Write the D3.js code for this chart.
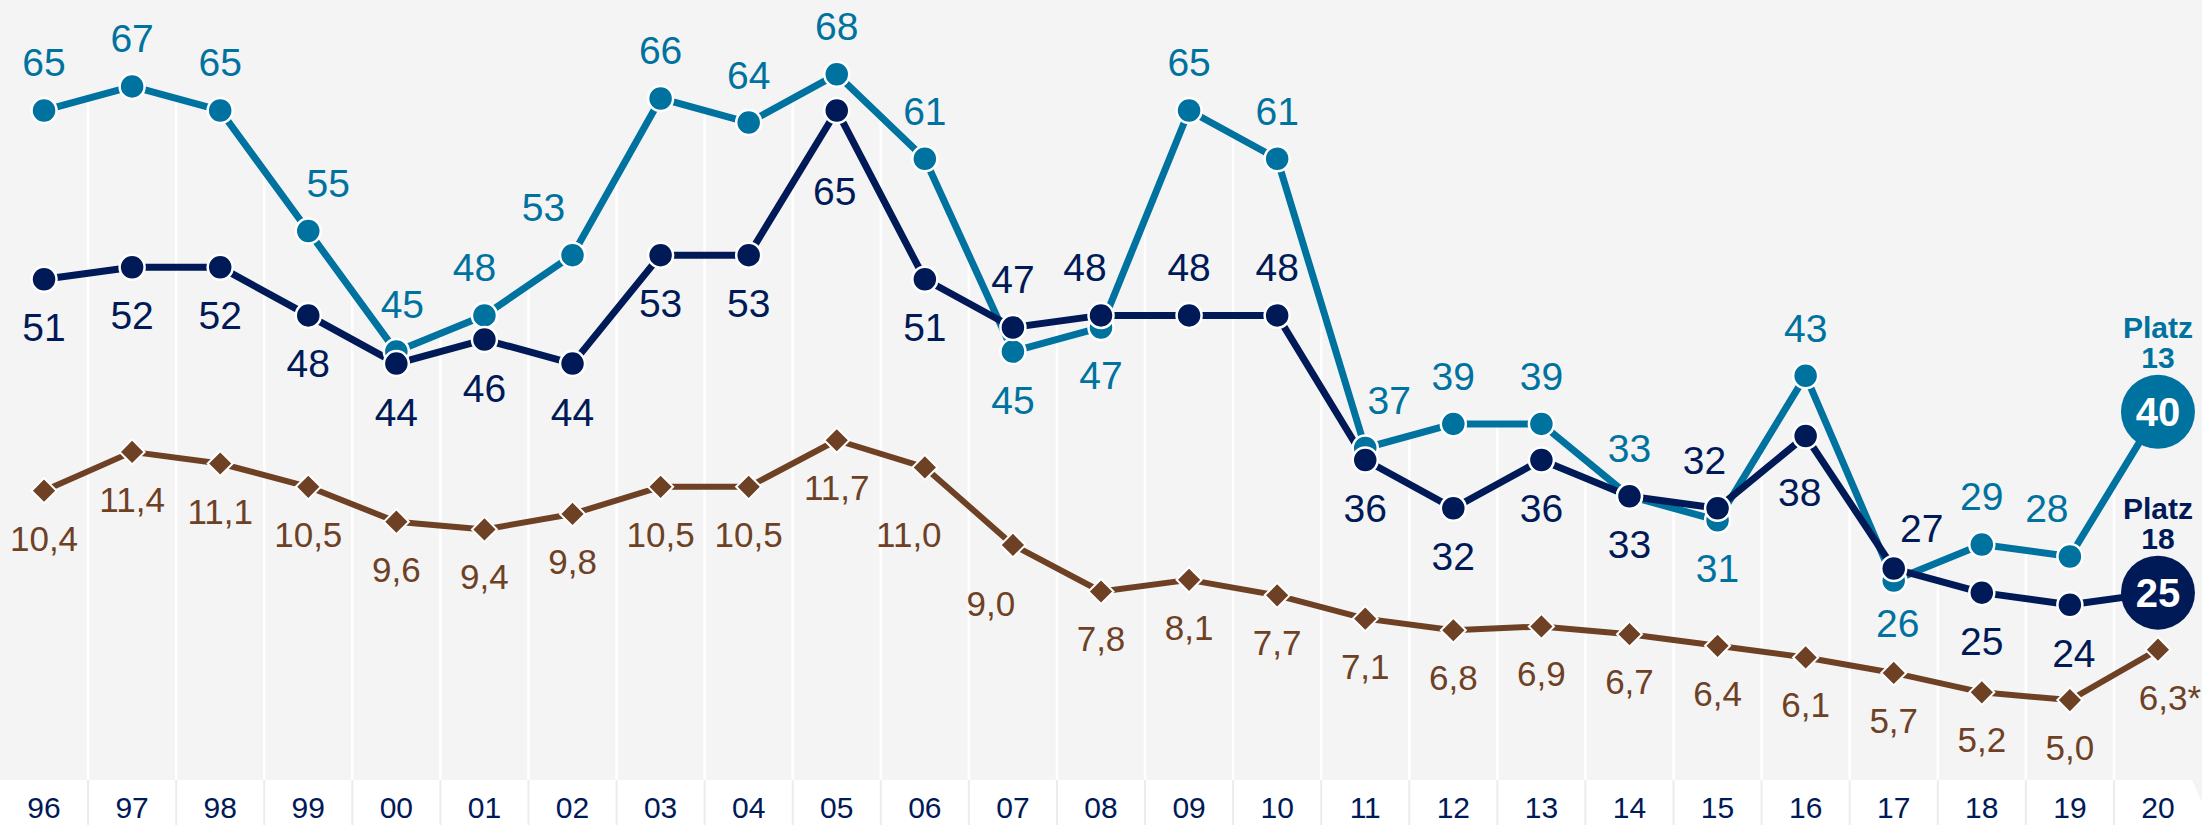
<!DOCTYPE html>
<html>
<head>
<meta charset="utf-8">
<script src="https://cdn.jsdelivr.net/npm/d3@7"></script>
<style>
  html, body { margin: 0; padding: 0; background: #f4f4f4; }
  svg { display: block; font-family: "Liberation Sans", Arial, sans-serif; }
</style>
</head>
<body>
<svg id="chart" width="2202" height="825"></svg>
<script>
// data
const years = ['96', '97', '98', '99', '00', '01', '02', '03', '04', '05', '06', '07', '08',
  '09', '10', '11', '12', '13', '14', '15', '16', '17', '18', '19', '20'];
const rankTeal = [65, 67, 65, 55, 45, 48, 53, 66, 64, 68, 61, 45, 47, 65, 61, 37, 39, 39, 33, 31, 43, 26, 29, 28, 40];
const rankNavy = [51, 52, 52, 48, 44, 46, 44, 53, 53, 65, 51, 47, 48, 48, 48, 36, 32, 36, 33, 32, 38, 27, 25, 24, 25];
const rate = [10.4, 11.4, 11.1, 10.5, 9.6, 9.4, 9.8, 10.5, 10.5, 11.7, 11.0, 9.0, 7.8, 8.1, 7.7, 7.1, 6.8, 6.9, 6.7, 6.4, 6.1, 5.7, 5.2, 5.0, 6.3];
const rateNote = '*';           // last value is provisional
const placeTeal = 13;
const placeNavy = 18;

// label placement (layout only)
const tealBelow = ['07', '08', '15', '17'];
const navyAbove = ['07', '08', '09', '10', '15', '17'];
const nudgeTeal = { '99': [20, 0], '00': [6, 0], '01': [-10, 0], '02': [-29, 0], '11': [24, 0], '17': [4, -6], '19': [-23, 0] };
const nudgeNavy = { '05': [-2, 33], '08': [-16, 0], '15': [-13, 0], '16': [-6, 8], '17': [28, 7], '19': [4, 0] };
const nudgeRate = { '06': [-16, 20], '07': [-22, 11], '20': [12, 0] };

const W = 2202, H = 825, plotBottom = 780;
const teal = '#00729f', navy = '#001a57', brown = '#6e4125';

const svg = d3.select('#chart');
const x = d3.scaleBand().domain(years).range([0, W]);
const cx = d => x(d) + x.bandwidth() / 2;
const yRank = d3.scaleLinear().domain([0, 74]).range([894, 2]);
const yRate = d3.scaleLinear().domain([0, 23]).range([894, 2]);
const fmtRate = v => d3.format('.1f')(v).replace('.', ',');

svg.append('rect').attr('width', W).attr('height', H).attr('fill', '#f4f4f4');

// white column dividers, from the top line down to the axis band
const grid = svg.append('g');
years.slice(1).forEach((yr, i) => {
  const top = Math.min(
    (yRank(rankTeal[i]) + yRank(rankTeal[i + 1])) / 2,
    (yRank(rankNavy[i]) + yRank(rankNavy[i + 1])) / 2);
  grid.append('line')
    .attr('x1', x(yr)).attr('x2', x(yr))
    .attr('y1', top).attr('y2', plotBottom)
    .attr('stroke', '#fff').attr('stroke-width', 2.5);
});

// axis band
svg.append('path')
  .attr('d', `M0,${plotBottom}H${W - 10}L${W},${plotBottom + 22}V${H}H0Z`)
  .attr('fill', '#fff');
years.slice(1).forEach(yr => {
  svg.append('line')
    .attr('x1', x(yr)).attr('x2', x(yr))
    .attr('y1', plotBottom).attr('y2', H)
    .attr('stroke', '#ececec').attr('stroke-width', 2);
});
const axis = svg.append('g')
  .attr('transform', `translate(0,${plotBottom})`)
  .call(d3.axisBottom(x).tickSize(0).tickPadding(17));
axis.select('.domain').remove();
axis.selectAll('text')
  .attr('font-size', 30)
  .attr('font-family', '"Liberation Sans", Arial, sans-serif')
  .attr('fill', navy);

// lines
const lineOf = y => d3.line().x((d, i) => cx(years[i])).y(d => y(d));
svg.append('path').datum(rate).attr('d', lineOf(yRate))
  .attr('fill', 'none').attr('stroke', brown).attr('stroke-width', 6).attr('stroke-linejoin', 'round');
svg.append('path').datum(rankTeal).attr('d', lineOf(yRank))
  .attr('fill', 'none').attr('stroke', teal).attr('stroke-width', 7).attr('stroke-linejoin', 'round');
svg.append('path').datum(rankNavy).attr('d', lineOf(yRank))
  .attr('fill', 'none').attr('stroke', navy).attr('stroke-width', 7).attr('stroke-linejoin', 'round');

// markers
const diamond = d3.symbol().type(d3.symbolSquare).size(313);
svg.append('g').selectAll('path').data(rate).join('path')
  .attr('d', diamond)
  .attr('transform', (d, i) => `translate(${cx(years[i])},${yRate(d)}) rotate(45)`)
  .attr('fill', brown).attr('stroke', '#fff').attr('stroke-width', 2);

const last = years.length - 1;
function dots(values, color) {
  svg.append('g').selectAll('circle').data(values.slice(0, last)).join('circle')
    .attr('cx', (d, i) => cx(years[i]))
    .attr('cy', d => yRank(d))
    .attr('r', 12.5)
    .attr('fill', color).attr('stroke', '#fff').attr('stroke-width', 2.5);
}
dots(rankTeal, teal);
dots(rankNavy, navy);

// value labels
function labels(values, color, yScale, isAbove, nudge, size, textOf) {
  svg.append('g').selectAll('text').data(values.slice(0, values === rate ? values.length : last)).join('text')
    .attr('x', (d, i) => cx(years[i]) + (nudge[years[i]] || [0, 0])[0])
    .attr('y', (d, i) => yScale(d) + (isAbove(years[i]) ? -34 : (values === rate ? 60 : 62)) + (nudge[years[i]] || [0, 0])[1])
    .attr('text-anchor', 'middle')
    .attr('font-size', size)
    .attr('fill', color)
    .text(textOf);
}
labels(rankTeal, teal, yRank, yr => !tealBelow.includes(yr), nudgeTeal, 39, d => d);
labels(rankNavy, navy, yRank, yr => navyAbove.includes(yr), nudgeNavy, 39, d => d);
labels(rate, brown, yRate, () => false, nudgeRate, 35, (d, i) => fmtRate(d) + (i === last ? rateNote : ''));

// final year: big badges with place
function badge(value, place, color) {
  const bx = cx(years[last]), by = yRank(value);
  svg.append('circle').attr('cx', bx).attr('cy', by).attr('r', 37).attr('fill', color);
  svg.append('text').attr('x', bx).attr('y', by).attr('dy', '0.36em')
    .attr('text-anchor', 'middle').attr('font-size', 40).attr('font-weight', 'bold')
    .attr('fill', '#fff').text(value);
  const t = svg.append('text').attr('text-anchor', 'middle').attr('font-size', 30)
    .attr('font-weight', 'bold').attr('fill', color);
  t.append('tspan').attr('x', bx).attr('y', by - 74).text('Platz');
  t.append('tspan').attr('x', bx).attr('y', by - 44).text(place);
}
badge(rankTeal[last], placeTeal, teal);
badge(rankNavy[last], placeNavy, navy);
</script>
</body>
</html>
